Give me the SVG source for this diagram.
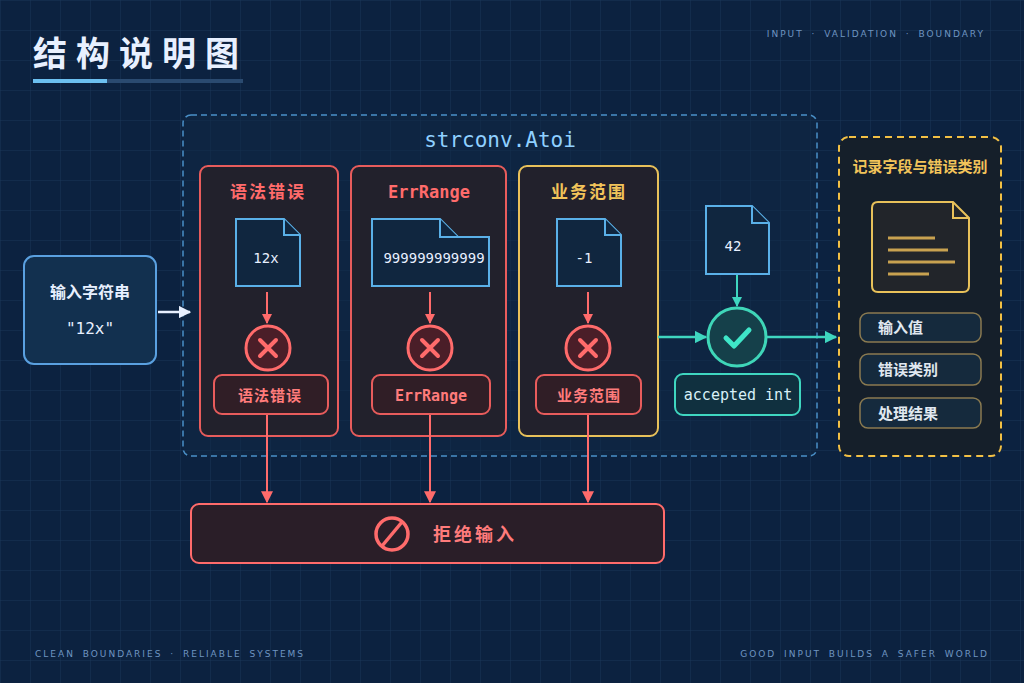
<svg xmlns="http://www.w3.org/2000/svg" width="1024" height="683" viewBox="0 0 1024 683">
<defs>
<pattern id="grid" width="30" height="30" patternUnits="userSpaceOnUse"><path d="M30 0H0V30" fill="none" stroke="#1a3658" stroke-width="1"/></pattern>
<marker id="ar" viewBox="0 0 10 10" refX="9" refY="5" markerWidth="5" markerHeight="5" orient="auto"><path d="M0 0L10 5L0 10z" fill="#ff6b6b"/></marker>
<marker id="arb" viewBox="0 0 10 10" refX="9" refY="5" markerWidth="6" markerHeight="6" orient="auto"><path d="M0 0L10 5L0 10z" fill="#ff6b6b"/></marker>
<marker id="ag" viewBox="0 0 10 10" refX="9" refY="5" markerWidth="5" markerHeight="5" orient="auto"><path d="M0 0L10 5L0 10z" fill="#3fd6c0"/></marker>
<marker id="aw" viewBox="0 0 10 10" refX="9" refY="5" markerWidth="5" markerHeight="5" orient="auto"><path d="M0 0L10 5L0 10z" fill="#e8f0ff"/></marker>
</defs>
<style>
.cn{font-family:"Noto Sans CJK SC","Noto Sans",sans-serif;font-weight:bold}
.mono{font-family:"DejaVu Sans Mono","Liberation Mono",monospace}
.small{font-family:"DejaVu Sans","Liberation Sans",sans-serif;font-size:9px;letter-spacing:2px;word-spacing:3px;fill:#6f95c0}
.panel{fill:#22212c;stroke-width:2}
.doc{fill:#10263f;stroke:#5ab0e8;stroke-width:2}
.red{stroke:#e85c5c}
.rl{stroke:#ff6b6b;stroke-width:2;fill:none}
.pill{fill:#152a3d;stroke:#8a7a50;stroke-width:1.5}
</style>
<rect width="1024" height="683" fill="#0c2240"/>
<rect width="1024" height="683" fill="url(#grid)"/>
<text x="33" y="66" class="cn" font-size="34" fill="#e8f0ff" letter-spacing="9">结构说明图</text>
<rect x="33" y="79" width="210" height="4" fill="#2a4a70"/>
<rect x="33" y="79" width="74" height="4" fill="#6cc0f0"/>
<text x="985" y="37" class="small" text-anchor="end" letter-spacing="2.5" word-spacing="14">INPUT · VALIDATION · BOUNDARY</text>
<text x="35" y="657" class="small">CLEAN BOUNDARIES · RELIABLE SYSTEMS</text>
<text x="989" y="657" class="small" text-anchor="end">GOOD INPUT BUILDS A SAFER WORLD</text>

<g id="input">
<rect x="24" y="256" width="132" height="108" rx="10" fill="#12304f" stroke="#5aa0e0" stroke-width="2"/>
<text x="90" y="298" class="cn" font-size="16" fill="#e8f0ff" text-anchor="middle">输入字符串</text>
<text x="90" y="334" class="mono" font-size="16" fill="#e8f0ff" text-anchor="middle">"12x"</text>
</g>

<g id="atoi">
<rect x="183" y="115" width="634" height="341" rx="8" fill="#0f2744" fill-opacity="0.5" stroke="#4a90c8" stroke-width="1.5" stroke-dasharray="6 4"/>
<text x="500" y="147" class="mono" font-size="21" fill="#8fd0ff" text-anchor="middle">strconv.Atoi</text>
</g>

<g id="syntax">
<rect x="200" y="166" width="138" height="270" rx="8" class="panel red"/>
<text x="268" y="198" class="cn" font-size="17" fill="#ff6b6b" text-anchor="middle" letter-spacing="2">语法错误</text>
<path d="M236 219H284L300 235V286H236Z" class="doc"/><path d="M284 219V235H300" class="doc"/>
<text x="266" y="263" class="mono" font-size="14" fill="#e8f0ff" text-anchor="middle">12x</text>
<circle cx="268" cy="348" r="22" fill="#4a1e28" stroke="#ff6b6b" stroke-width="3"/>
<path d="M260 340L276 356M276 340L260 356" stroke="#ff6b6b" stroke-width="4" stroke-linecap="round"/>
<rect x="214" y="375" width="114" height="39" rx="8" fill="#301e26" stroke="#e85c5c" stroke-width="2"/>
<text x="270" y="401" class="cn" font-size="15" fill="#ff7b7b" text-anchor="middle" letter-spacing="1">语法错误</text>
</g>

<g id="errrange">
<rect x="351" y="166" width="155" height="270" rx="8" class="panel red"/>
<text x="429" y="198" class="mono" font-size="17" font-weight="bold" fill="#ff6b6b" text-anchor="middle">ErrRange</text>
<path d="M372 219H440L458 237H489V286H372Z" class="doc"/><path d="M440 219V237H458" class="doc"/>
<text x="434" y="263" class="mono" font-size="14" fill="#e8f0ff" text-anchor="middle">999999999999</text>
<circle cx="430" cy="348" r="22" fill="#4a1e28" stroke="#ff6b6b" stroke-width="3"/>
<path d="M422 340L438 356M438 340L422 356" stroke="#ff6b6b" stroke-width="4" stroke-linecap="round"/>
<rect x="372" y="375" width="118" height="39" rx="8" fill="#301e26" stroke="#e85c5c" stroke-width="2"/>
<text x="431" y="401" class="mono" font-size="15" font-weight="bold" fill="#ff7b7b" text-anchor="middle">ErrRange</text>
</g>

<g id="business">
<rect x="519" y="166" width="139" height="270" rx="8" class="panel" stroke="#e8c15a"/>
<text x="589" y="198" class="cn" font-size="17" fill="#f2c45a" text-anchor="middle" letter-spacing="2">业务范围</text>
<path d="M557 219H605L621 235V286H557Z" class="doc"/><path d="M605 219V235H621" class="doc"/>
<text x="584" y="263" class="mono" font-size="14" fill="#e8f0ff" text-anchor="middle">-1</text>
<circle cx="588" cy="348" r="22" fill="#4a1e28" stroke="#ff6b6b" stroke-width="3"/>
<path d="M580 340L596 356M596 340L580 356" stroke="#ff6b6b" stroke-width="4" stroke-linecap="round"/>
<rect x="536" y="375" width="105" height="39" rx="8" fill="#301e26" stroke="#e85c5c" stroke-width="2"/>
<text x="589" y="401" class="cn" font-size="15" fill="#ff7b7b" text-anchor="middle" letter-spacing="1">业务范围</text>
</g>

<g id="accepted">
<path d="M706 206H752L769 223V274H706Z" class="doc"/><path d="M752 206V223H769" class="doc"/>
<text x="733" y="251" class="mono" font-size="14" fill="#e8f0ff" text-anchor="middle">42</text>
<circle cx="737" cy="337" r="29" fill="#15404a" stroke="#3fd6b8" stroke-width="3"/>
<path d="M726 338L734 346L749 330" fill="none" stroke="#3fe6c8" stroke-width="5" stroke-linecap="round" stroke-linejoin="round"/>
<rect x="675" y="374" width="125" height="41" rx="8" fill="#10303f" stroke="#3fd6c0" stroke-width="2"/>
<text x="738" y="400" class="mono" font-size="15" fill="#d8f0f8" text-anchor="middle">accepted int</text>
</g>

<g id="reject">
<rect x="191" y="504" width="473" height="59" rx="8" fill="#2a1e28" stroke="#ff6b6b" stroke-width="2"/>
<circle cx="392" cy="534" r="16" fill="none" stroke="#ff6b6b" stroke-width="3.5"/>
<path d="M382 546L402 522" stroke="#ff6b6b" stroke-width="3.5"/>
<text x="475" y="541" class="cn" font-size="18" fill="#ff7b7b" text-anchor="middle" letter-spacing="3">拒绝输入</text>
</g>

<g id="record">
<rect x="839" y="137" width="162" height="319" rx="10" fill="#151f2a" stroke="#f2c045" stroke-width="2" stroke-dasharray="7 5"/>
<text x="920" y="172" class="cn" font-size="15" fill="#f2c45a" text-anchor="middle">记录字段与错误类别</text>
<path d="M878 202H953L969 218V286Q969 292 963 292H878Q872 292 872 286V208Q872 202 878 202Z" fill="#22252a" stroke="#e8c15a" stroke-width="2"/>
<path d="M953 202V218H969" fill="none" stroke="#e8c15a" stroke-width="2"/>
<path d="M888 238H935M888 250H948M888 262H955M888 274H929" stroke="#c8a250" stroke-width="3"/>
<rect x="860" y="313" width="121" height="29" rx="8" class="pill"/>
<text x="878" y="333" class="cn" font-size="15" fill="#e0e8f0" font-weight="normal">输入值</text>
<rect x="860" y="354" width="121" height="31" rx="8" class="pill"/>
<text x="878" y="375" class="cn" font-size="15" fill="#e0e8f0" font-weight="normal">错误类别</text>
<rect x="860" y="398" width="121" height="30" rx="8" class="pill"/>
<text x="878" y="419" class="cn" font-size="15" fill="#e0e8f0" font-weight="normal">处理结果</text>
</g>

<g id="connectors">
<path d="M158 312H190" stroke="#e8f0ff" stroke-width="2.5" marker-end="url(#aw)"/>
<path d="M267 292V323" class="rl" marker-end="url(#ar)"/>
<path d="M430 292V323" class="rl" marker-end="url(#ar)"/>
<path d="M588 292V323" class="rl" marker-end="url(#ar)"/>
<path d="M267 415V502" class="rl" stroke-width="2.5" marker-end="url(#arb)"/>
<path d="M430 415V502" class="rl" stroke-width="2.5" marker-end="url(#arb)"/>
<path d="M588 415V502" class="rl" stroke-width="2.5" marker-end="url(#arb)"/>
<path d="M658 337H706" stroke="#3fd6c0" stroke-width="2.5" marker-end="url(#ag)"/>
<path d="M737 275V306" stroke="#3fd6c0" stroke-width="2" marker-end="url(#ag)"/>
<path d="M767 337H836" stroke="#3fd6c0" stroke-width="2.5" marker-end="url(#ag)"/>
</g>
</svg>
